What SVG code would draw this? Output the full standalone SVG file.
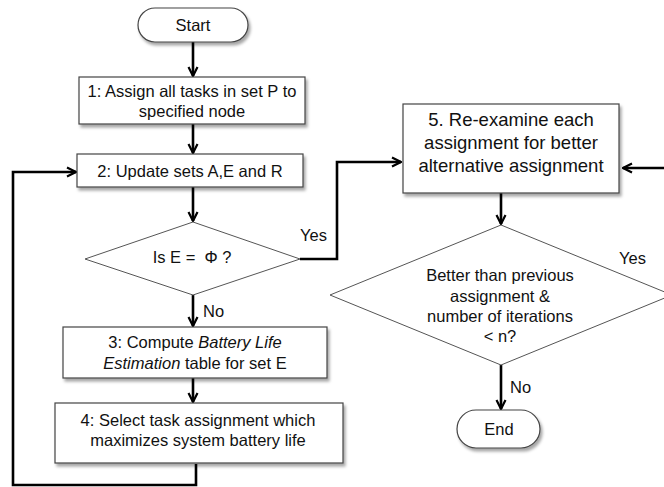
<svg xmlns="http://www.w3.org/2000/svg" width="664" height="487" viewBox="0 0 664 487">
<defs>
  <filter id="sh" x="-10%" y="-10%" width="130%" height="140%">
    <feDropShadow dx="2" dy="3" stdDeviation="1.6" flood-color="#000" flood-opacity="0.35"/>
  </filter>
  <marker id="arr" viewBox="0 0 12 12" refX="11" refY="6" markerWidth="12" markerHeight="12" markerUnits="userSpaceOnUse" orient="auto">
    <path d="M2,1.5 L11,6 L2,10.5" fill="none" stroke="#000" stroke-width="2.2"/>
  </marker>
</defs>
<style>
  .box { fill: #fff; stroke: #444; stroke-width: 1.2; filter: url(#sh); }
  .dia { fill: #fff; stroke: #555; stroke-width: 1; }
  .t { font-family: "Liberation Sans", Arial, sans-serif; font-size: 16.5px; fill: #111; text-anchor: middle; }
  .big { font-size: 18.5px; }
  .lbl { font-family: "Liberation Sans", Arial, sans-serif; font-size: 16.5px; fill: #111; }
  .c { fill: none; stroke: #000; stroke-width: 2.6; }
</style>
<rect width="664" height="487" fill="#fff"/>

<g id="connectors">
  <line class="c" x1="193" y1="42" x2="193" y2="76" marker-end="url(#arr)"/>
  <line class="c" x1="193" y1="124" x2="193" y2="153" marker-end="url(#arr)"/>
  <line class="c" x1="193" y1="187" x2="193" y2="221" marker-end="url(#arr)"/>
  <line class="c" x1="193" y1="295" x2="193" y2="326" marker-end="url(#arr)"/>
  <line class="c" x1="193" y1="378" x2="193" y2="402" marker-end="url(#arr)"/>
  <polyline class="c" points="196,464 196,485 13,485 13,172 76,172" marker-end="url(#arr)"/>
  <polyline class="c" points="300,259 337,259 337,162 401,162" marker-end="url(#arr)"/>
  <line class="c" x1="501" y1="193" x2="501" y2="224" marker-end="url(#arr)"/>
  <line class="c" x1="664" y1="168" x2="623" y2="168" marker-end="url(#arr)"/>
  <line class="c" x1="501" y1="365" x2="501" y2="409" marker-end="url(#arr)"/>
  <text class="lbl" x="300" y="241">Yes</text>
  <text class="lbl" x="203" y="317">No</text>
  <text class="lbl" x="619" y="264">Yes</text>
  <text class="lbl" x="510" y="393">No</text>
</g>

<g id="start">
  <rect class="box" x="138" y="8" width="110" height="34" rx="17" ry="17"/>
  <text class="t" x="193" y="31">Start</text>
</g>

<g id="step1">
  <rect class="box" x="79" y="77" width="226" height="47"/>
  <text class="t" x="192" y="97">1: Assign all tasks in set P to</text>
  <text class="t" x="192" y="117">specified node</text>
</g>

<g id="step2">
  <rect class="box" x="77" y="154" width="226" height="33"/>
  <text class="t" x="190" y="177">2: Update sets A,E and R</text>
</g>

<g id="decision1">
  <polygon class="dia" points="193,222 300,259 193,295 85,259"/>
  <text class="t" x="192" y="263" xml:space="preserve">Is E =  Φ ?</text>
</g>

<g id="step3">
  <rect class="box" x="63" y="327" width="264" height="51"/>
  <text class="t" x="195" y="348">3: Compute <tspan font-style="italic">Battery Life</tspan></text>
  <text class="t" x="195" y="369"><tspan font-style="italic">Estimation</tspan> table for set E</text>
</g>

<g id="step4">
  <rect class="box" x="55" y="403" width="288" height="60"/>
  <text class="t" x="198" y="426">4: Select task assignment which</text>
  <text class="t" x="198" y="446">maximizes system battery life</text>
</g>

<g id="step5">
  <rect class="box" x="403" y="104" width="216" height="89"/>
  <text class="t big" x="511" y="126">5. Re-examine each</text>
  <text class="t big" x="511" y="149">assignment for better</text>
  <text class="t big" x="511" y="172">alternative assignment</text>
</g>

<g id="decision2">
  <polygon class="dia" points="501,225 672,295 501,365 330,295"/>
  <text class="t" x="500" y="281">Better than previous</text>
  <text class="t" x="500" y="302">assignment &amp;</text>
  <text class="t" x="500" y="322">number of iterations</text>
  <text class="t" x="500" y="342">&lt; n?</text>
</g>

<g id="end">
  <rect class="box" x="457" y="410" width="83" height="38" rx="19" ry="19"/>
  <text class="t" x="499" y="435">End</text>
</g>
</svg>
